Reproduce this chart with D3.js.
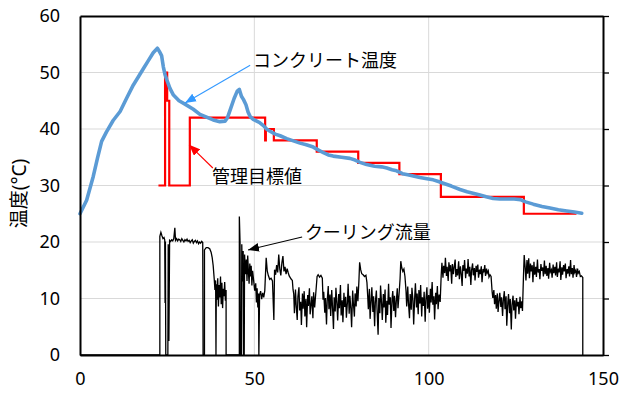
<!DOCTYPE html>
<html><head><meta charset="utf-8">
<script src="https://cdn.jsdelivr.net/npm/d3@7"></script>
<style>html,body{margin:0;padding:0;background:#fff;} svg{display:block}</style>
</head><body><svg id="chart" width="619" height="396"></svg>
<script>
const xTicks = [0, 50, 100, 150];
const yTicks = [0, 10, 20, 30, 40, 50, 60];
const yAxisTitle = "温度(°C)";

// コンクリート温度 [time, °C]
const tempData = [
[0,25.0],[1.9,27.4],[3.8,31.6],[5,34.8],[6.2,37.8],[7.6,39.5],[9.5,41.5],[11.5,43.1],[13.4,45.5],[15.3,47.8],[16.8,49.3],[18.2,50.7],[19.6,52.1],[21,53.5],[22.2,54.3],[22.8,53.7],[23.4,53.0],[23.9,51.0],[24.4,49.6],[24.9,48.7],[25.8,47.2],[26.8,46.0],[28.4,45.0],[30.1,44.4],[32.5,43.5],[34.4,42.6],[36.3,42.1],[38.2,41.6],[40.1,41.3],[41.6,41.4],[42.3,42.0],[43.2,43.6],[44.2,45.4],[45.1,46.7],[45.7,47.0],[46.3,45.8],[46.9,45.2],[47.6,44.3],[48.2,43.0],[48.8,42.2],[49.7,41.7],[50.7,41.4],[51.6,41.1],[52.6,40.6],[53.5,40.0],[54.5,39.6],[56.0,39.1],[57.4,38.8],[59.3,38.3],[61.2,37.9],[63.1,37.5],[64.9,37.2],[66.9,36.8],[68.3,36.3],[69.8,35.8],[71.2,35.4],[72.6,35.2],[75.0,35.0],[77.4,34.8],[78.9,34.5],[80.3,34.1],[82.2,33.7],[84.5,33.4],[86.5,33.3],[88.0,33.1],[89.5,32.8],[90.8,32.6],[92.5,32.1],[94.0,31.9],[95.6,31.7],[97.5,31.4],[99.5,31.2],[101.3,31.0],[102.8,30.7],[104.2,30.4],[106.5,29.9],[109.0,29.3],[111.0,28.9],[113.0,28.6],[114.7,28.3],[116.5,28.0],[118.5,27.7],[120.4,27.6],[122.5,27.6],[124.5,27.6],[126.3,27.5],[127.8,27.1],[130.0,26.7],[132.5,26.3],[134.8,26.0],[137.2,25.7],[139.6,25.5],[141.8,25.3],[143.9,25.1]
];

// 管理目標値 [time, °C]
const targetData = [
[22.5,30],[24.4,30],[24.4,50],[25.0,50],[25.0,45],[25.6,45],[25.6,30],[31.5,30],[31.5,42],[53.1,42],[53.1,38],[53.3,38],[53.3,40],[55.6,40],[55.6,38],[67.9,38],[67.9,36],[79.8,36],[79.8,34],[91.6,34],[91.6,32],[103.5,32],[103.5,28],[127.3,28],[127.3,25],[142.4,25]
];

// クーリング流量 [time, value]
const flowData = [
[0,0],[22.9,0],[22.9,21.0],[23.2,21.7],[23.5,21.1],[23.8,20.6],[24.1,20.8],[24.3,20.4],[24.4,9.2],[24.5,20.1],[24.6,0],[25.2,0],[25.3,19.6],[25.5,2.5],[25.7,20.3],
[26.0,20.1],[26.3,20.4],[26.6,20.2],[26.9,20.6],[27.2,22.5],[27.4,20.3],[27.7,20.6],[28.0,20.2],[28.3,20.5],[28.6,20.4],[28.9,20.1],[29.2,20.6],[29.5,20.3],[29.8,20.0],[30.1,20.4],[30.4,20.2],[30.7,20.5],[31.0,20.1],[31.3,20.3],[31.6,19.9],[31.9,20.2],[32.2,20.4],[32.5,19.8],[32.8,20.1],[33.1,20.3],[33.4,19.9],[33.7,20.2],[34.0,19.7],[34.3,20.0],[34.6,19.8],[34.9,20.1],[35.2,19.9],[35.3,0],[35.7,0],
[35.7,18.6],[36.2,19.0],[36.7,19.0],[37.2,18.8],[37.6,18.2],[37.9,17.3],[38.2,15.8],[38.5,13.4],[38.7,11.5],[38.9,13.2],[39.0,0],[39.1,12.5],[39.3,9.8],[39.5,13.6],[39.7,8.6],[39.9,12.4],[40.1,10.2],[40.3,13.9],[40.5,9.0],[40.7,12.8],[40.9,8.3],[41.1,11.7],[41.3,10.4],[41.5,12.9],[41.7,9.6],[41.9,11.5],[41.9,0],[45.7,0],
[45.7,24.5],[45.9,20.1],[46.0,0],[46.3,0],[46.4,19.6],[46.6,13.0],[46.8,18.4],[46.9,0],[47.1,0],[47.2,17.8],[47.5,14.3],[47.7,16.9],[47.9,13.1],[48.1,17.6],[48.3,14.8],[48.5,12.6],[48.7,16.2],[48.9,13.9],[49.1,15.8],[49.3,12.3],[49.5,14.9],[49.8,13.2],[50.1,11.4],[50.4,12.7],[50.6,9.3],[50.8,11.8],[51.0,8.4],[51.2,10.9],[51.3,0],[51.5,10.6],[51.8,11.3],[52.1,9.9],[52.4,11.0],[52.7,10.2],[53.0,11.4],[53.4,17.2],[53.7,14.9],[54.0,14.1],[54.4,13.4],[54.8,13.6],[55.2,13.1],[55.6,6.2],[55.8,15.1],[56.1,14.2],[56.4,15.9],[56.7,14.6],[57.0,17.8],[57.3,15.2],[57.6,14.1],[57.9,16.3],[58.2,17.5],[58.5,14.8],[58.8,15.6],[59.1,14.3],[59.4,15.3],[59.7,14.6],[60.0,14.0],[60.3,13.7],[60.6,13.4],[60.9,13.2],[61.1,11.6],
[61.3,10.8],[61.5,7.4],[61.8,11.6],[62.0,8.9],[62.3,6.2],[62.5,10.3],[62.8,12.0],[63.0,7.9],[63.3,9.4],[63.5,5.3],[63.8,10.9],[64.0,8.2],[64.3,11.3],[64.5,6.8],[64.8,9.9],[65.0,4.9],[65.3,10.6],[65.5,8.7],[65.8,11.8],[66.0,7.2],[66.3,9.1],[66.5,10.4],[66.8,6.5],[67.0,11.1],[67.3,8.4],[67.5,10.0],[67.8,12.3],
[68.0,13.9],[68.3,14.2],[68.7,13.8],[69.1,14.1],[69.5,13.6],
[69.7,9.8],[69.9,11.2],[70.2,7.5],[70.4,10.1],[70.7,5.4],[70.9,9.6],[71.2,12.2],[71.4,8.1],[71.7,10.7],[71.9,6.9],[72.2,11.5],[72.4,8.8],[72.7,4.6],[72.9,10.2],[73.2,7.7],[73.4,11.9],[73.7,9.0],[73.9,6.1],[74.2,10.8],[74.4,8.3],[74.7,12.4],[74.9,7.0],[75.2,9.7],[75.4,5.8],[75.7,11.0],[75.9,8.5],[76.2,10.3],[76.4,6.6],[76.7,9.4],[76.9,12.6],[77.2,7.3],[77.4,10.5],[77.7,8.0],[77.9,4.9],[78.2,11.4],[78.4,9.2],[78.7,6.8],[78.9,10.9],[79.2,8.6],[79.4,12.1],[79.7,9.5],
[80.0,13.2],[80.2,16.4],[80.5,15.1],[80.8,14.4],[81.2,14.2],[81.6,13.9],[82.0,14.1],[82.3,12.8],
[82.5,10.6],[82.7,8.1],[83.0,11.7],[83.2,6.4],[83.5,9.8],[83.7,12.0],[84.0,7.6],[84.2,10.4],[84.5,5.1],[84.7,9.3],[85.0,11.4],[85.2,8.0],[85.5,3.6],[85.7,10.1],[86.0,7.4],[86.2,12.3],[86.5,9.0],[86.7,6.2],[87.0,10.8],[87.2,8.4],[87.5,11.6],[87.7,5.7],[88.0,9.6],[88.2,7.1],[88.5,12.6],[88.7,8.9],[89.0,10.2],[89.2,4.8],[89.5,9.9],[89.7,11.3],[90.0,7.8],[90.2,10.5],[90.5,6.7],[90.7,9.4],[91.0,11.8],[91.2,8.3],[91.5,10.7],
[91.8,13.5],[92.0,16.6],[92.3,15.4],[92.6,14.8],[92.9,15.2],[93.2,13.9],
[93.5,11.4],[93.7,8.6],[94.0,12.1],[94.2,9.3],[94.5,6.5],[94.7,10.8],[95.0,8.0],[95.2,11.9],[95.5,9.6],[95.7,5.4],[96.0,10.3],[96.2,12.7],[96.5,8.4],[96.7,10.9],[97.0,7.2],[97.2,11.5],[97.5,9.1],[97.7,12.4],[98.0,6.8],[98.2,10.2],[98.5,8.7],[98.7,11.2],[99.0,5.9],[99.2,9.8],[99.5,12.0],[99.7,8.2],[100.0,10.6],[100.2,7.5],[100.5,11.7],[100.7,9.3],[101.0,12.9],[101.2,8.9],[101.5,10.4],[101.7,6.3],[102.0,11.0],[102.2,9.0],[102.5,12.2],[102.7,8.1],[103.0,10.7],[103.3,9.4],
[103.6,14.2],[103.8,16.3],[104.1,13.7],[104.3,15.8],[104.6,14.5],[104.8,17.2],[105.1,14.0],[105.3,15.6],[105.6,13.1],[105.8,16.4],[106.1,14.8],[106.3,15.9],[106.6,12.6],[106.8,16.1],[107.1,14.3],[107.3,15.5],[107.6,16.9],[107.8,13.8],[108.1,15.2],[108.3,14.1],[108.6,16.6],[108.8,13.4],[109.1,15.7],[109.3,14.6],[109.6,12.2],[109.8,15.9],[110.1,14.9],[110.3,16.8],[110.6,13.6],[110.8,15.3],[111.1,14.4],[111.3,17.0],[111.6,13.9],[111.8,15.6],[112.1,12.4],[112.3,15.0],[112.6,16.2],[112.8,14.1],[113.1,15.4],[113.3,13.2],[113.6,15.8],[113.8,14.7],[114.1,16.0],[114.3,13.7],[114.6,15.1],[114.8,14.3],[115.1,15.7],[115.3,12.9],[115.6,15.2],[115.8,14.6],[116.1,15.9],[116.3,14.0],[116.6,15.3],[116.8,14.5],[117.1,14.9],[117.3,13.8],[117.6,14.2],[117.9,13.9],
[118.2,11.2],[118.4,10.1],[118.7,11.5],[118.9,9.0],[119.2,10.6],[119.4,8.2],[119.7,10.9],[119.9,7.6],[120.2,9.8],[120.4,11.0],[120.7,8.5],[120.9,10.2],[121.2,6.9],[121.4,9.6],[121.7,11.3],[121.9,8.1],[122.2,10.4],[122.4,5.2],[122.7,9.3],[122.9,10.8],[123.2,7.4],[123.4,9.9],[123.7,4.5],[123.9,8.8],[124.2,10.5],[124.4,7.9],[124.7,9.7],[124.9,6.4],[125.2,10.1],[125.4,8.6],[125.7,9.4],[125.9,7.2],[126.2,10.3],[126.4,8.3],[126.7,9.5],[126.9,7.8],
[127.2,14.1],[127.4,17.7],[127.7,15.3],[127.9,13.2],[128.2,16.8],[128.4,14.4],[128.7,17.1],[128.9,13.6],[129.2,16.2],[129.4,14.8],[129.7,15.9],[129.9,12.9],[130.2,16.5],[130.4,14.2],[130.7,15.6],[130.9,13.8],[131.2,16.9],[131.4,14.6],[131.7,15.2],[131.9,13.4],[132.2,16.1],[132.4,14.9],[132.7,15.5],[132.9,13.9],[133.2,16.7],[133.4,14.3],[133.7,15.8],[133.9,14.0],[134.2,15.4],[134.4,13.5],[134.7,16.3],[134.9,14.7],[135.2,15.1],[135.4,13.7],[135.7,16.0],[135.9,14.5],[136.2,15.6],[136.4,14.1],[136.7,16.4],[136.9,13.8],[137.2,15.3],[137.4,14.6],[137.7,16.6],[137.9,13.3],[138.2,15.5],[138.4,14.2],[138.7,15.9],[138.9,14.8],[139.2,16.2],[139.4,13.6],[139.7,15.2],[139.9,14.4],[140.2,15.7],[140.4,13.9],[140.7,16.8],[140.9,14.3],[141.2,15.4],[141.4,13.7],[141.7,15.9],[141.9,14.6],[142.2,15.0],[142.4,13.8],[142.7,15.3],[142.9,14.5],[143.2,14.8],[143.5,13.9],[143.8,14.0],[144.2,13.7],[144.2,0]
];

// annotations: label text, label anchor (data units), arrow tail & tip (data units)
const annLabels = ["コンクリート温度", "管理目標値", "クーリング流量"];
const annLabelPos = [[49.6, 52.2], [37.85, 31.7], [64.5, 21.8]];
const annArrowTail = [[48.8, 51.3], [38.1, 33.1], [63.7, 20.9]];
const annArrowTip = [[30.1, 44.6], [31.3, 37.2], [48.2, 18.6]];
const annColors = ["#3399ff", "#ff0000", "#000000"];

const W = 619, H = 396;
const m = {left: 80, right: 16, top: 16, bottom: 41};
const svg = d3.select("#chart");
const x = d3.scaleLinear().domain([0, 150]).range([m.left, W - m.right]);
const y = d3.scaleLinear().domain([0, 60]).range([H - m.bottom, m.top]);
const FONT = "'Noto Sans', 'Noto Sans CJK JP', sans-serif";

// gridlines
svg.append("g").selectAll("line").data(yTicks.filter(d => d > 0 && d < 60)).join("line")
  .attr("x1", x(0)).attr("x2", x(150)).attr("y1", d => y(d)).attr("y2", d => y(d))
  .attr("stroke", "#d9d9d9").attr("stroke-width", 1);
svg.append("g").selectAll("line").data(xTicks.filter(d => d > 0 && d < 150)).join("line")
  .attr("y1", y(0)).attr("y2", y(60)).attr("x1", d => x(d)).attr("x2", d => x(d))
  .attr("stroke", "#d9d9d9").attr("stroke-width", 1);

const line = d3.line().x(d => x(d[0])).y(d => y(d[1]));

svg.append("path").datum(flowData).attr("d", line)
  .attr("fill", "none").attr("stroke", "#000").attr("stroke-width", 1.3).attr("stroke-linejoin", "miter");
svg.append("path").datum(targetData).attr("d", line)
  .attr("fill", "none").attr("stroke", "#ff0000").attr("stroke-width", 2.2);
svg.append("path").datum(tempData).attr("d", line)
  .attr("fill", "none").attr("stroke", "#5b9bd5").attr("stroke-width", 3.6)
  .attr("stroke-linejoin", "round").attr("stroke-linecap", "round");

// axes
const leftAxis = svg.append("g").attr("transform", `translate(${m.left},0)`)
  .call(d3.axisLeft(y).tickValues(yTicks).tickSize(0).tickPadding(20));
leftAxis.select(".domain").attr("stroke", "#000").attr("stroke-width", 2);
leftAxis.selectAll("text").attr("font-family", FONT).attr("font-size", 18).attr("fill", "#000");

const bottomAxis = svg.append("g").attr("transform", `translate(0,${y(0)})`)
  .call(d3.axisBottom(x).tickValues(xTicks).tickSize(0).tickPadding(17));
bottomAxis.select(".domain").attr("stroke", "#000").attr("stroke-width", 2);
bottomAxis.selectAll("text").attr("font-family", FONT).attr("font-size", 18).attr("fill", "#000");

const rightAxis = svg.append("g").attr("transform", `translate(${x(150)},0)`)
  .call(d3.axisRight(y).tickValues(yTicks).tickSizeInner(6).tickSizeOuter(0).tickFormat(""));
rightAxis.select(".domain").attr("stroke", "#000").attr("stroke-width", 2);
rightAxis.selectAll(".tick line").attr("stroke", "#000").attr("stroke-width", 1.3);

const topAxis = svg.append("g").attr("transform", `translate(0,${y(60)})`)
  .call(d3.axisTop(x).tickValues([]).tickSizeOuter(0));
topAxis.select(".domain").attr("stroke", "#000").attr("stroke-width", 2);

// y title
svg.append("text").attr("transform", `translate(19,${(y(0)+y(60))/2 + 8}) rotate(-90)`)
  .attr("text-anchor", "middle").attr("dominant-baseline", "central")
  .attr("font-family", FONT).attr("font-size", 19).attr("fill", "#000").text(yAxisTitle);

// annotations
const defs = svg.append("defs");
annColors.forEach((c, i) => {
  defs.append("marker").attr("id", "ah" + i).attr("viewBox", "0 0 10 8")
    .attr("refX", 10).attr("refY", 4).attr("markerWidth", 11).attr("markerHeight", 9)
    .attr("markerUnits", "userSpaceOnUse").attr("orient", "auto")
    .append("path").attr("d", "M0,0L10,4L0,8Z").attr("fill", c);
});
annLabels.forEach((t, i) => {
  svg.append("line")
    .attr("x1", x(annArrowTail[i][0])).attr("y1", y(annArrowTail[i][1]))
    .attr("x2", x(annArrowTip[i][0])).attr("y2", y(annArrowTip[i][1]))
    .attr("stroke", annColors[i]).attr("stroke-width", 1.1)
    .attr("marker-end", `url(#ah${i})`);
  svg.append("text").attr("x", x(annLabelPos[i][0])).attr("y", y(annLabelPos[i][1]))
    .attr("dominant-baseline", "central").attr("font-family", FONT)
    .attr("font-size", 18).attr("fill", "#000").text(t);
});
</script></body></html>
